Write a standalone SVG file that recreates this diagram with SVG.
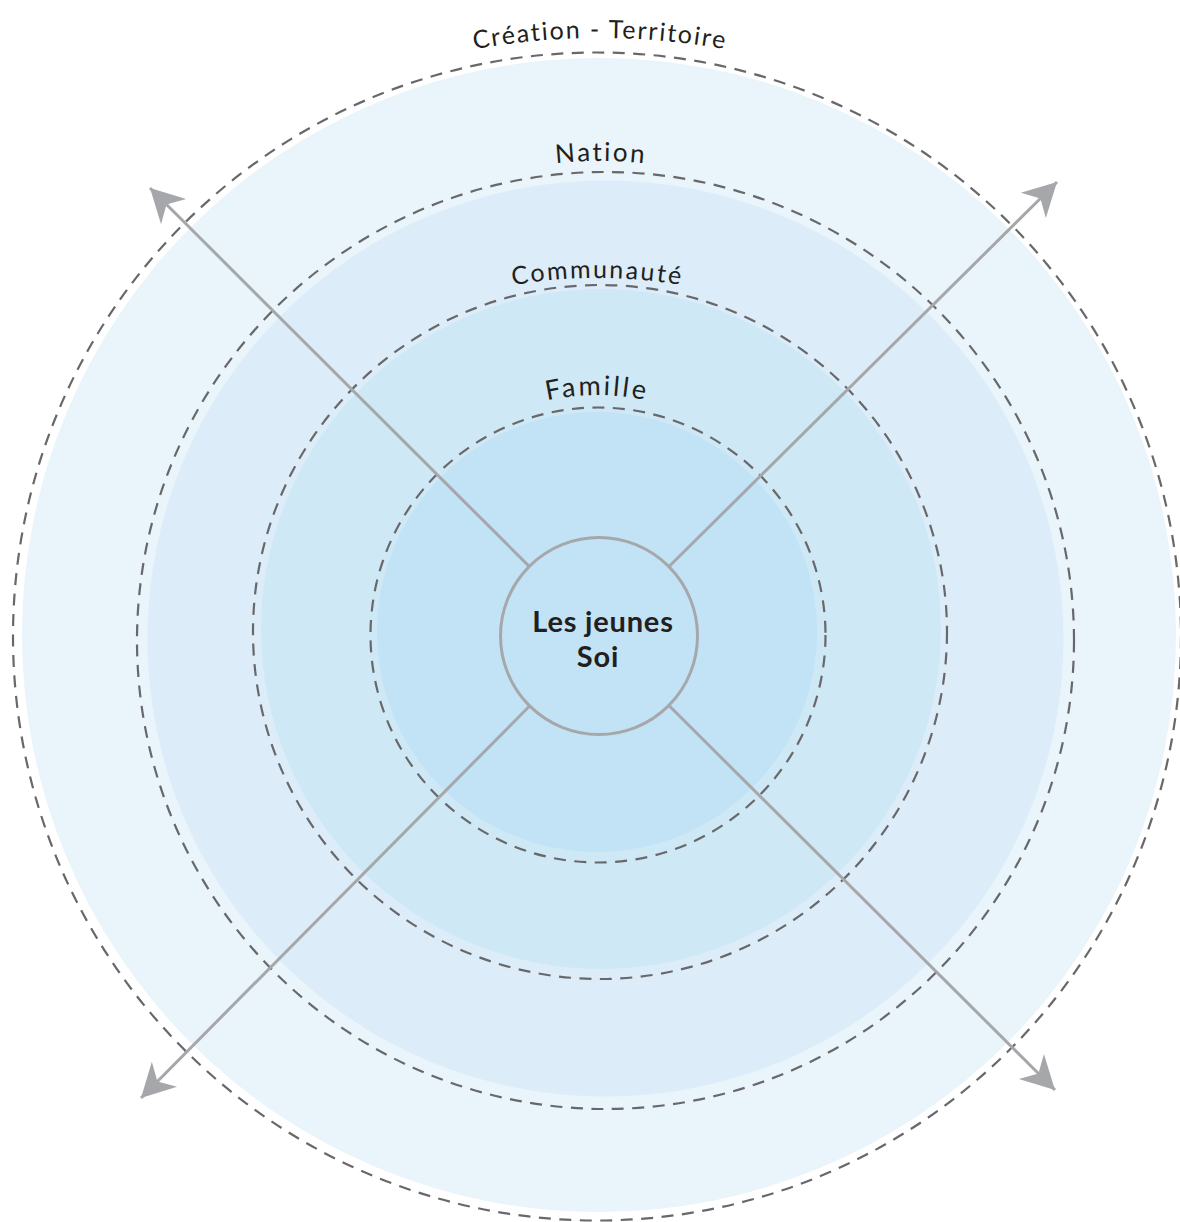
<svg xmlns="http://www.w3.org/2000/svg" width="1180" height="1222" viewBox="0 0 1180 1222">
  <style>
    .ring-dash { fill: none; stroke: #68686b; stroke-width: 2.2; stroke-dasharray: 12 8.5; }
    .axis { fill: none; stroke: #a6a7aa; stroke-width: 3; marker-end: url(#arrow); }
    .ring-label { font-family: Lato, "Open Sans", sans-serif; fill: #231f20; }
    .core-label { font-family: Lato, "Open Sans", sans-serif; font-size: 29px; font-weight: bold; fill: #231f20; text-anchor: middle; letter-spacing: 0.8px; }
  </style>
  <defs>
    <marker id="arrow" markerUnits="userSpaceOnUse" markerWidth="40" markerHeight="40" viewBox="-32 -18 34 36" refX="0" refY="0" orient="auto">
      <path d="M0,0 L-30,-16 L-21,0 L-30,16 Z" fill="#a6a7aa"/>
    </marker>
    <!-- baselines for the ring captions -->
    <path id="arc-creation" d="M -100,738 A 700 700 0 0 1 1300,738"/>
    <path id="arc-nation" d="M 181,581 A 420 420 0 0 1 1021,581"/>
    <path id="arc-communaute" d="M 97.5,778 A 500 500 0 0 1 1097.5,778"/>
    <path id="arc-famille" d="M 367,625 A 230 230 0 0 1 827,625"/>
  </defs>

  <rect width="1180" height="1222" fill="#ffffff"/>

  <g id="ring-creation-territoire">
    <circle cx="599" cy="635" r="577" fill="#e9f4fb"/>
    <circle class="ring-dash" cx="597" cy="636.5" r="584"/>
    <text class="ring-label" font-size="25" letter-spacing="1.8"><textPath href="#arc-creation" startOffset="50%" text-anchor="middle">Création - Territoire</textPath></text>
  </g>

  <g id="ring-nation">
    <circle cx="605.5" cy="638.5" r="458" fill="#dcedf9"/>
    <circle class="ring-dash" cx="605.5" cy="640.5" r="468.5"/>
    <text class="ring-label" font-size="26" letter-spacing="2.3"><textPath href="#arc-nation" startOffset="50%" text-anchor="middle">Nation</textPath></text>
  </g>

  <g id="ring-communaute">
    <circle cx="601" cy="629" r="340" fill="#cee8f6"/>
    <circle class="ring-dash" cx="600" cy="632" r="347"/>
    <text class="ring-label" font-size="25" letter-spacing="2.2"><textPath href="#arc-communaute" startOffset="50%" text-anchor="middle">Communauté</textPath></text>
  </g>

  <g id="ring-famille">
    <circle cx="597" cy="632" r="220" fill="#c2e3f5"/>
    <circle class="ring-dash" cx="598" cy="635" r="227.5"/>
    <text class="ring-label" font-size="27" letter-spacing="2.6"><textPath href="#arc-famille" startOffset="50%" text-anchor="middle">Famille</textPath></text>
  </g>

  <g id="connectors">
    <line class="axis" x1="528.9" y1="566.1" x2="150" y2="188"/>
    <line class="axis" x1="669.3" y1="566.3" x2="1057" y2="182"/>
    <line class="axis" x1="529.3" y1="706.3" x2="141" y2="1098"/>
    <line class="axis" x1="669.2" y1="705.8" x2="1055" y2="1090"/>
  </g>

  <g id="node-les-jeunes-soi">
    <circle cx="599" cy="636" r="98.5" fill="#c2e3f5" stroke="#a6a7aa" stroke-width="3"/>
    <text class="core-label" x="603" y="632">Les jeunes</text>
    <text class="core-label" x="598" y="667">Soi</text>
  </g>
</svg>
